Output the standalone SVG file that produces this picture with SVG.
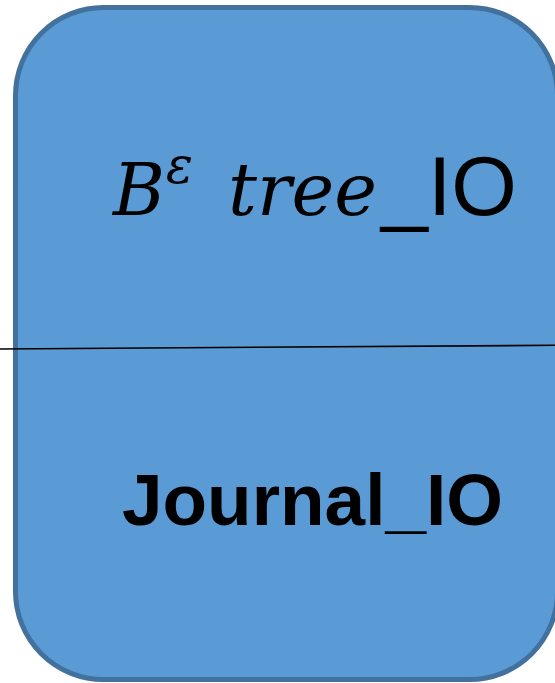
<svg xmlns="http://www.w3.org/2000/svg" width="555" height="683" viewBox="0 0 555 683">
<style>
.box{fill:#5B9BD5;stroke:#41719C;stroke-width:5}
.math{font-family:"DejaVu Serif","Liberation Serif",serif;font-style:italic;fill:#000}
.sans{font-family:"Liberation Sans",Arial,sans-serif;fill:#000}
</style>
<g id="node-box">
<rect class="box" x="15.5" y="7.5" width="542" height="672" rx="88" ry="88"/>
</g>
<g id="connectors">
<line x1="0" y1="349" x2="555" y2="345.3" stroke="#000" stroke-width="1.6"/>
</g>
<g id="label-btree">
<text class="math" x="113" y="215" font-size="73" textLength="52" lengthAdjust="spacingAndGlyphs">B</text>
<text class="math" x="166" y="183" font-size="52" textLength="27" lengthAdjust="spacingAndGlyphs">ε</text>
<text class="math" x="228" y="215" font-size="73" textLength="149" lengthAdjust="spacingAndGlyphs">tree</text>
<text class="sans" x="381" y="215" font-size="84" textLength="136" lengthAdjust="spacingAndGlyphs">_IO</text>
</g>
<g id="label-journal">
<text class="sans" x="122" y="525" font-size="73" font-weight="bold" textLength="381" lengthAdjust="spacingAndGlyphs">Journal_IO</text>
</g>
</svg>
